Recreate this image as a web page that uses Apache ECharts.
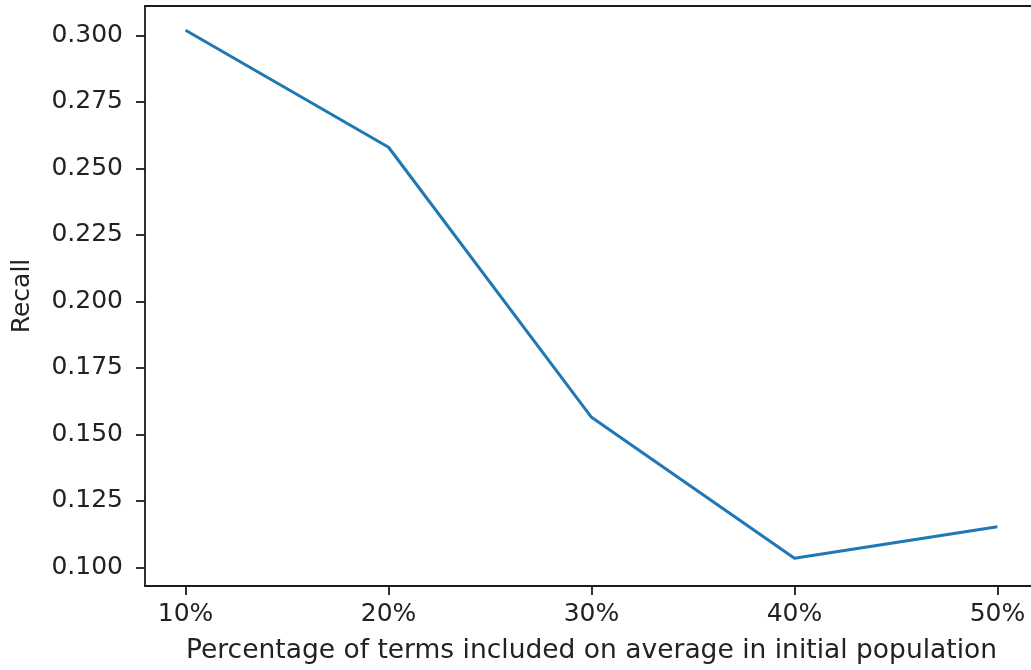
<!DOCTYPE html>
<html>
<head>
<meta charset="utf-8">
<script src="https://cdn.jsdelivr.net/npm/echarts@6/dist/echarts.min.js"></script>
<style>
	html, body { margin: 0; padding: 0; background: #fff; }
	#chart { width: 1031px; height: 670px; }
</style>
</head>
<body>
<div id="chart"></div>
<script>
// 数据
var percents = [10, 20, 30, 40, 50];
var recall = [0.3019, 0.2579, 0.1564, 0.1034, 0.1153];
var yTicks = [0.100, 0.125, 0.150, 0.175, 0.200, 0.225, 0.250, 0.275, 0.300];

var font = 'DejaVu Sans';
var spine = { color: '#1a1a1a', width: 1.8 };

var chart = echarts.init(document.getElementById('chart'));

var option = {
	animation: false,
	backgroundColor: '#fff',
	//网格
	grid: {
		left: 145,
		top: 6,
		width: 893,
		height: 580,
		outerBoundsMode: 'none',
		containLabel: false
	},
	//x轴 (下 + 上边框)
	xAxis: [{
		type: 'value',
		position: 'bottom',
		min: 8,
		max: 52,
		name: 'Percentage of terms included on average in initial population',
		nameLocation: 'middle',
		nameGap: 52,
		nameTextStyle: { fontFamily: font, fontSize: 26.5, color: '#222' },
		splitLine: { show: false },
		axisLine: { show: true, onZero: false, lineStyle: spine },
		axisTick: {
			show: true,
			customValues: percents,
			length: 9,
			lineStyle: spine
		},
		axisLabel: {
			customValues: percents,
			margin: 16,
			fontFamily: font,
			fontSize: 25,
			color: '#222',
			formatter: function (v) { return v + '%'; }
		}
	}, {
		type: 'value',
		position: 'top',
		min: 8,
		max: 52,
		splitLine: { show: false },
		axisLine: { show: true, onZero: false, lineStyle: spine },
		axisTick: { show: false },
		axisLabel: { show: false }
	}],
	//y轴
	yAxis: {
		type: 'value',
		min: 0.093,
		max: 0.311,
		name: 'Recall',
		nameLocation: 'middle',
		nameRotate: 90,
		nameGap: 110,
		nameTextStyle: { fontFamily: font, fontSize: 25, color: '#222' },
		splitLine: { show: false },
		axisLine: { show: true, onZero: false, lineStyle: spine },
		axisTick: {
			show: true,
			customValues: yTicks,
			length: 9,
			lineStyle: spine
		},
		axisLabel: {
			customValues: yTicks,
			margin: 22,
			fontFamily: font,
			fontSize: 25,
			color: '#222',
			formatter: function (v) { return v.toFixed(3); }
		}
	},
	//系列列表
	series: [{
		type: 'line',
		data: percents.map(function (p, i) { return [p, recall[i]]; }),
		showSymbol: false,
		symbol: 'none',
		lineStyle: { color: '#1f77b4', width: 3 },
		clip: false
	}]
};

chart.setOption(option);
</script>
</body>
</html>
